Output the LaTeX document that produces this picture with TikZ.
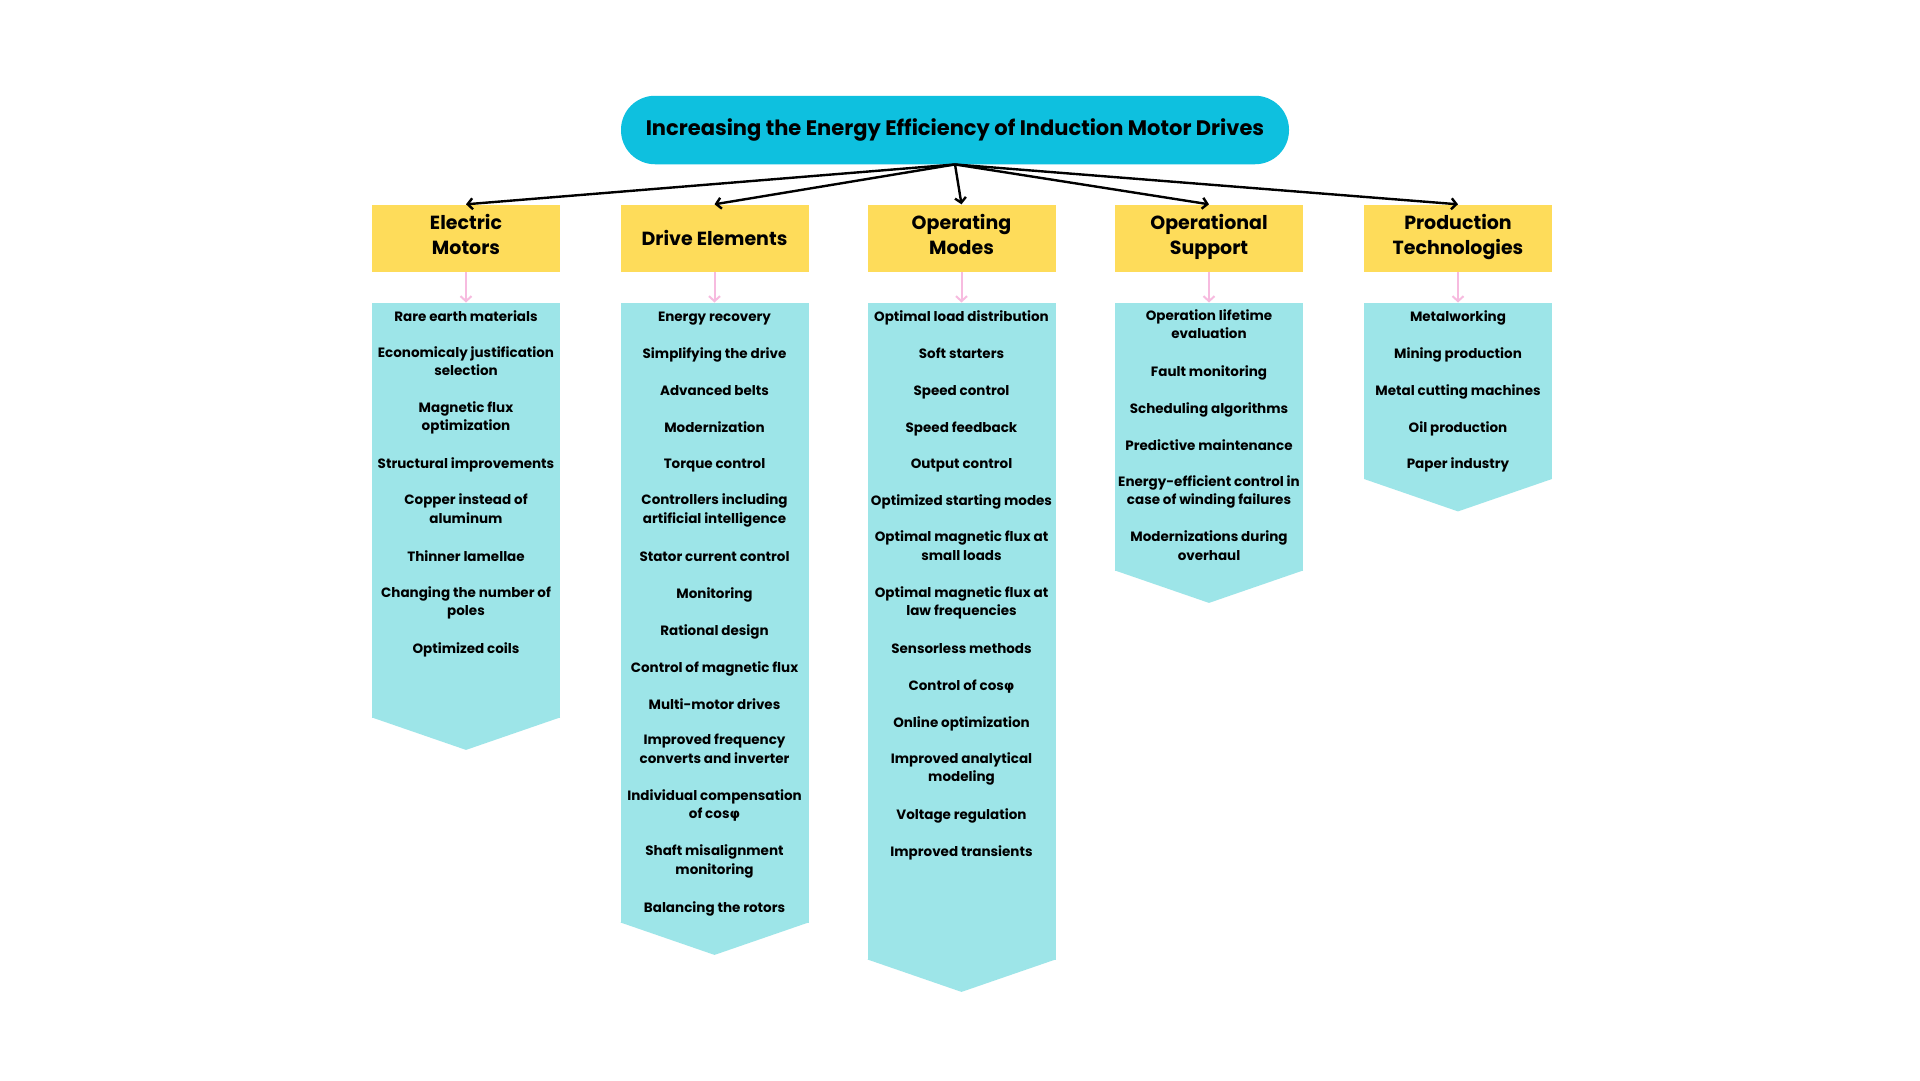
\documentclass[tikz,border=0pt]{standalone}
\usepackage{fontspec}
\setmainfont{Poppins}
\newfontfamily\grk{DejaVu Sans}
\usetikzlibrary{arrows.meta}
\definecolor{pillc}{HTML}{0EC0DF}
\definecolor{hdrc}{HTML}{FEDC5A}
\definecolor{bodyc}{HTML}{9DE5E8}
\definecolor{pinkc}{HTML}{F7BBDF}
\newcommand\phisym{{\grk φ}}
\begin{document}
\begin{tikzpicture}[x=1pt,y=-1pt,
  titlebox/.style={fill=pillc, rounded corners=34pt, minimum width=668pt, minimum height=68.5pt, inner sep=0pt,
    font=\bfseries\fontsize{21}{25}\selectfont},
  hdrbox/.style={fill=hdrc, minimum width=188pt, minimum height=67.5pt, inner sep=0pt, align=center,
    font=\bfseries\fontsize{19}{25}\selectfont,
    execute at begin node={\rule{0pt}{22.5pt}}, execute at end node=\strut},
  bodybox/.style={fill=bodyc, minimum width=188pt, inner sep=0pt, anchor=north},
  item/.style={align=center, inner sep=0pt, font=\bfseries\fontsize{13.5}{18.47}\selectfont,
    execute at begin node=\strut, execute at end node=\strut},
  mainarrow/.style={draw=black, line width=2.4pt, -{Straight Barb[length=5pt,width=11pt]}},
  subarrow/.style={draw=pinkc, line width=2pt, -{Straight Barb[length=5pt,width=11pt]}},
  tipfill/.style={fill=bodyc}
]
\useasboundingbox[fill=white] (0,0) rectangle (1920,1080);

% title
\node[titlebox] (title) at (955,130) {Increasing the Energy Efficiency of Induction Motor Drives};

% headers
\node[hdrbox] (h1) at (466,238.25) {Electric\\Motors};
\node[hdrbox] (h2) at (714.5,238.25) {Drive Elements};
\node[hdrbox] (h3) at (961.5,238.25) {Operating\\Modes};
\node[hdrbox] (h4) at (1209,238.25) {Operational\\Support};
\node[hdrbox] (h5) at (1458,238.25) {Production\\Technologies};

% bodies
\node[bodybox, minimum height=415pt] (b1) at (466,302.5) {};
\node[bodybox, minimum height=620pt] (b2) at (714.5,302.5) {};
\node[bodybox, minimum height=657pt] (b3) at (961.5,302.5) {};
\node[bodybox, minimum height=268pt] (b4) at (1209,302.5) {};
\node[bodybox, minimum height=176.5pt] (b5) at (1458,302.5) {};
\foreach \b in {b1,b2,b3,b4,b5}{
  \fill[tipfill] ([yshift=0.5pt]\b.south west) -- ([yshift=0.5pt]\b.south east) -- ([yshift=-32pt]\b.south) -- cycle;
}

% connectors
\foreach \h in {h1,h2,h3,h4,h5}{
  \draw[mainarrow] (title.south) -- (\h.north);
}
\foreach \i in {1,...,5}{
  \draw[subarrow] (h\i.south) -- (b\i.north);
}

% items: text / start line / number of lines
\foreach \t/\s/\n [count=\k] in {
  Rare earth materials/0/1,
  {Economicaly justification\\selection}/2/2,
  {Magnetic flux\\optimization}/5/2,
  Structural improvements/8/1,
  {Copper instead of\\aluminum}/10/2,
  Thinner lamellae/13/1,
  {Changing the number of\\poles}/15/2,
  Optimized coils/18/1}{
  \node[item] (e\k) at (466,{317.5+(\s+(\n-1)/2)*18.47}) {\t};
}
\foreach \t/\s/\n [count=\k] in {
  Energy recovery/0/1,
  Simplifying the drive/2/1,
  Advanced belts/4/1,
  Modernization/6/1,
  Torque control/8/1,
  {Controllers including\\artificial intelligence}/10/2,
  Stator current control/13/1,
  Monitoring/15/1,
  Rational design/17/1,
  Control of magnetic flux/19/1,
  Multi-motor drives/21/1,
  {Improved frequency\\converts and inverter}/23/2,
  {Individual compensation\\of cos\phisym}/26/2,
  {Shaft misalignment\\monitoring}/29/2,
  Balancing the rotors/32/1}{
  \node[item] (d\k) at (714.5,{317.5+(\s+(\n-1)/2)*18.47}) {\t};
}
\foreach \t/\s/\n [count=\k] in {
  Optimal load distribution/0/1,
  Soft starters/2/1,
  Speed control/4/1,
  Speed feedback/6/1,
  Output control/8/1,
  Optimized starting modes/10/1,
  {Optimal magnetic flux at\\small loads}/12/2,
  {Optimal magnetic flux at\\law frequencies}/15/2,
  Sensorless methods/18/1,
  {Control of cos\phisym}/20/1,
  Online optimization/22/1,
  {Improved analytical\\modeling}/24/2,
  Voltage regulation/27/1,
  Improved transients/29/1}{
  \node[item] (m\k) at (961.5,{317.5+(\s+(\n-1)/2)*18.47}) {\t};
}
\foreach \t/\s/\n [count=\k] in {
  {Operation lifetime\\evaluation}/0/2,
  Fault monitoring/3/1,
  Scheduling algorithms/5/1,
  Predictive maintenance/7/1,
  {Energy-efficient control in\\case of winding failures}/9/2,
  {Modernizations during\\overhaul}/12/2}{
  \node[item] (s\k) at (1209,{317.5+(\s+(\n-1)/2)*18.47}) {\t};
}
\foreach \t/\s/\n [count=\k] in {
  Metalworking/0/1,
  Mining production/2/1,
  Metal cutting machines/4/1,
  Oil production/6/1,
  Paper industry/8/1}{
  \node[item] (p\k) at (1458,{317.5+(\s+(\n-1)/2)*18.47}) {\t};
}
\end{tikzpicture}
\end{document}
